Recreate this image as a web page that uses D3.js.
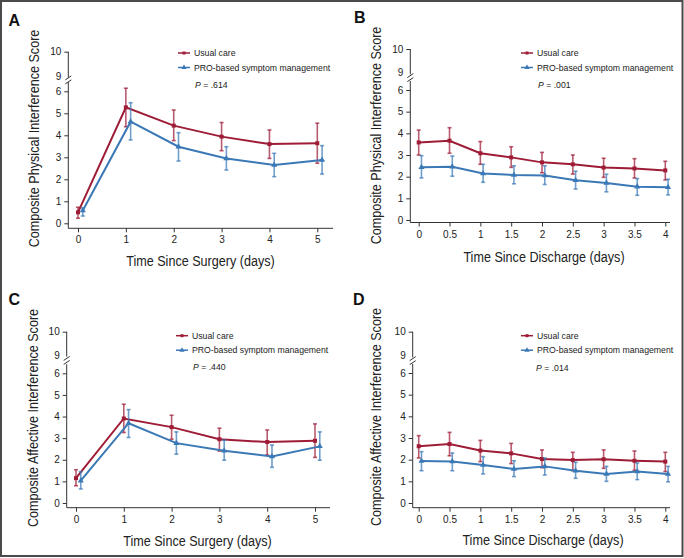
<!DOCTYPE html>
<html>
<head>
<meta charset="utf-8">
<script src="https://cdn.jsdelivr.net/npm/d3@7"></script>
<style>
  html, body { margin: 0; padding: 0; background: #fff; }
  svg { display: block; }
  .tick text { font-family: "Liberation Sans", Arial, sans-serif; font-size: 10px; fill: #222; }
  .tick line { stroke: #333; }
  .axis-title { font-family: "Liberation Sans", Arial, sans-serif; font-size: 15px; fill: #222; }
  .legend text, .pval { font-family: "Liberation Sans", Arial, sans-serif; font-size: 8.7px; fill: #222; }
  .panel-label { font-family: "Liberation Sans", Arial, sans-serif; font-size: 16px; font-weight: bold; fill: #111; }
</style>
</head>
<body>
<svg id="fig" width="684" height="558"></svg>
<script>
// Values: [mean, lower CI, upper CI]
const surgeryDays = [0, 1, 2, 3, 4, 5];
const dischargeDays = [0, 0.5, 1, 1.5, 2, 2.5, 3, 3.5, 4];

const physSurgeryUsual = [[0.5, 0.23, 0.73], [5.27, 4.39, 6.14], [4.44, 3.76, 5.15], [3.94, 3.3, 4.58], [3.6, 2.95, 4.24], [3.64, 2.73, 4.55]];
const physSurgeryPro   = [[0.58, 0.33, 0.7], [4.62, 3.79, 5.48], [3.48, 2.83, 4.12], [2.95, 2.42, 3.48], [2.65, 2.12, 3.18], [2.88, 2.24, 3.53]];

const physDischargeUsual = [[3.58, 3.0, 4.15], [3.66, 3.08, 4.26], [3.08, 2.57, 3.62], [2.89, 2.43, 3.38], [2.66, 2.18, 3.12], [2.57, 2.12, 3.0], [2.42, 1.97, 2.85], [2.38, 1.94, 2.83], [2.29, 1.85, 2.71]];
const physDischargePro   = [[2.43, 1.94, 2.97], [2.46, 2.02, 2.95], [2.15, 1.74, 2.57], [2.08, 1.67, 2.5], [2.05, 1.64, 2.5], [1.83, 1.43, 2.25], [1.71, 1.3, 2.11], [1.54, 1.14, 1.91], [1.51, 1.16, 1.88]];

const affSurgeryUsual = [[1.15, 0.8, 1.54], [3.91, 3.26, 4.57], [3.51, 2.95, 4.06], [2.95, 2.4, 3.46], [2.82, 2.22, 3.38], [2.88, 2.11, 3.66]];
const affSurgeryPro   = [[1.03, 0.65, 1.45], [3.69, 3.03, 4.32], [2.77, 2.26, 3.29], [2.42, 1.98, 2.91], [2.15, 1.65, 2.68], [2.62, 1.98, 3.29]];

const affDischargeUsual = [[2.62, 2.08, 3.11], [2.72, 2.18, 3.26], [2.42, 1.91, 2.89], [2.29, 1.82, 2.75], [2.03, 1.63, 2.45], [1.98, 1.49, 2.34], [2.02, 1.6, 2.45], [1.95, 1.51, 2.4], [1.91, 1.45, 2.34]];
const affDischargePro   = [[1.94, 1.49, 2.37], [1.91, 1.49, 2.31], [1.75, 1.34, 2.14], [1.57, 1.22, 1.95], [1.69, 1.29, 2.08], [1.49, 1.14, 1.88], [1.34, 1.0, 1.69], [1.45, 1.08, 1.85], [1.34, 0.98, 1.69]];

const seriesNames = ["Usual care", "PRO-based symptom management"];
const lowerTicks = [0, 1, 2, 3, 4, 5, 6];
const upperTicks = [9, 10];
const surgeryTicks = [0, 1, 2, 3, 4, 5];
const dischargeTicks = [0, 0.5, 1, 1.5, 2, 2.5, 3, 3.5, 4];

const RED = "#9e1c36", BLUE = "#3a78b6";
const SQUEEZE = 0.84; // the original titles use a condensed face

// per-panel geometry (px, local to the panel's corner)
const panels = [
  { label: "A", ox: 0, oy: 0, days: surgeryDays, ticks: surgeryTicks, xmax: 5, shift: 0.1,
    usual: physSurgeryUsual, pro: physSurgeryPro, p: ".614",
    ytitle: "Composite Physical Interference Score", xtitle: "Time Since Surgery (days)",
    g: { ax: 68.3, x0: 78, x1: 317.3, xr: 333, xy: 228.3, y0: 223.3, y6: 91.3, y9: 76, y10: 51.7,
         lab: [8.5, 25.5], leg: [178, 53], pv: [195, 88], yt: [38.5, 138.5], xt: [200.5, 266] } },
  { label: "B", ox: 342, oy: 0, days: dischargeDays, ticks: dischargeTicks, xmax: 4, shift: 0.045,
    usual: physDischargeUsual, pro: physDischargePro, p: ".001",
    ytitle: "Composite Physical Interference Score", xtitle: "Time Since Discharge (days)",
    g: { ax: 68.3, x0: 76.7, x1: 323.3, xr: 328, xy: 222.5, y0: 220, y6: 90, y9: 72.7, y10: 49,
         lab: [12, 23], leg: [179, 53], pv: [196, 88], yt: [38.5, 135.5], xt: [202, 262] } },
  { label: "C", ox: 0, oy: 279, days: surgeryDays, ticks: surgeryTicks, xmax: 5, shift: 0.1,
    usual: affSurgeryUsual, pro: affSurgeryPro, p: ".440",
    ytitle: "Composite Affective Interference Score", xtitle: "Time Since Surgery (days)",
    g: { ax: 66.7, x0: 76, x1: 315, xr: 330, xy: 228.7, y0: 224, y6: 94.3, y9: 76, y10: 52.7,
         lab: [8.5, 26], leg: [176, 56.7], pv: [193, 91], yt: [37.5, 139], xt: [197.5, 267] } },
  { label: "D", ox: 342, oy: 279, days: dischargeDays, ticks: dischargeTicks, xmax: 4, shift: 0.045,
    usual: affDischargeUsual, pro: affDischargePro, p: ".014",
    ytitle: "Composite Affective Interference Score", xtitle: "Time Since Discharge (days)",
    g: { ax: 70.7, x0: 76.7, x1: 323.3, xr: 328, xy: 228.7, y0: 224, y6: 94, y9: 76.7, y10: 52.7,
         lab: [11, 26], leg: [179, 56.7], pv: [194, 92], yt: [38.5, 138], xt: [201, 266] } }
];

const svg = d3.select("#fig");

svg.append("rect")
  .attr("x", 1).attr("y", 1).attr("width", 681.5).attr("height", 555)
  .attr("fill", "none").attr("stroke", "#4a4a4a").attr("stroke-width", 2);

const triangle = d3.symbol().type(d3.symbolTriangle).size(16);
const fmt = d3.format("");

function drawPanel(p) {
  const g = svg.append("g").attr("transform", `translate(${p.ox},${p.oy})`);
  const G = p.g;

  const x = d3.scaleLinear().domain([0, p.xmax]).range([G.x0, G.x1]);
  const yLow = d3.scaleLinear().domain([0, 6]).range([G.y0, G.y6]);
  const yUp = d3.scaleLinear().domain([9, 10]).range([G.y9, G.y10]);

  // y axes (broken between 6 and 9)
  const yAxisLow = g.append("g").attr("transform", `translate(${G.ax},0)`)
    .call(d3.axisLeft(yLow).tickValues(lowerTicks).tickFormat(fmt).tickSize(4).tickPadding(3).tickSizeOuter(0));
  yAxisLow.select(".domain").remove();
  const yAxisUp = g.append("g").attr("transform", `translate(${G.ax},0)`)
    .call(d3.axisLeft(yUp).tickValues(upperTicks).tickFormat(fmt).tickSize(4).tickPadding(3).tickSizeOuter(0));
  yAxisUp.select(".domain").remove();
  yAxisUp.selectAll(".tick").filter(d => d === 9).select("line").remove();

  g.append("line").attr("x1", G.ax).attr("x2", G.ax)
    .attr("y1", G.xy).attr("y2", yLow(6.42)).attr("stroke", "#333");
  g.append("line").attr("x1", G.ax).attr("x2", G.ax)
    .attr("y1", yUp(10)).attr("y2", yUp(8.93)).attr("stroke", "#333");
  const bm = (yLow(6.42) + yUp(8.93)) / 2;
  [-2, 2].forEach(off => {
    g.append("line")
      .attr("x1", G.ax - 3).attr("x2", G.ax + 3)
      .attr("y1", bm + off + 2).attr("y2", bm + off - 2)
      .attr("stroke", "#333").attr("stroke-width", 1);
  });

  // x axis
  const xAxis = g.append("g").attr("transform", `translate(0,${G.xy})`)
    .call(d3.axisBottom(x).tickValues(p.ticks).tickFormat(fmt).tickSize(4).tickPadding(4));
  xAxis.select(".domain").remove();
  g.append("line").attr("x1", G.ax).attr("x2", G.xr)
    .attr("y1", G.xy).attr("y2", G.xy).attr("stroke", "#333");

  // titles
  g.append("text").attr("class", "axis-title")
    .attr("transform", `translate(${G.yt[0]},${G.yt[1]}) rotate(-90) scale(${SQUEEZE},1)`)
    .attr("text-anchor", "middle").text(p.ytitle);
  g.append("text").attr("class", "axis-title")
    .attr("transform", `translate(${G.xt[0]},${G.xt[1]}) scale(${SQUEEZE},1)`)
    .attr("text-anchor", "middle").text(p.xtitle);
  g.append("text").attr("class", "panel-label")
    .attr("x", G.lab[0]).attr("y", G.lab[1]).text(p.label);

  // series
  const series = [
    { data: p.usual, color: RED, shift: 0, marker: "square" },
    { data: p.pro, color: BLUE, shift: p.shift, marker: "triangle" }
  ];
  const line = d3.line();
  series.forEach(s => {
    const pts = s.data.map((d, i) => ({ x: x(p.days[i] + s.shift), m: yLow(d[0]), lo: yLow(d[1]), hi: yLow(d[2]) }));
    const eb = g.append("g").attr("stroke", s.color).attr("stroke-opacity", 0.72).attr("stroke-width", 1.6);
    pts.forEach(q => {
      eb.append("line").attr("x1", q.x).attr("x2", q.x).attr("y1", q.lo).attr("y2", q.hi);
      eb.append("line").attr("x1", q.x - 2).attr("x2", q.x + 2).attr("y1", q.lo).attr("y2", q.lo);
      eb.append("line").attr("x1", q.x - 2).attr("x2", q.x + 2).attr("y1", q.hi).attr("y2", q.hi);
    });
    g.append("path").attr("d", line(pts.map(q => [q.x, q.m])))
      .attr("fill", "none").attr("stroke", s.color).attr("stroke-width", 2);
    pts.forEach(q => {
      if (s.marker === "square") {
        g.append("rect").attr("x", q.x - 2).attr("y", q.m - 2).attr("width", 4).attr("height", 4).attr("fill", s.color);
      } else {
        g.append("path").attr("d", triangle).attr("transform", `translate(${q.x},${q.m})`).attr("fill", s.color);
      }
    });
  });

  // legend
  const leg = g.append("g").attr("class", "legend");
  series.forEach((s, i) => {
    const ly = G.leg[1] + i * 14.5;
    leg.append("line").attr("x1", G.leg[0]).attr("x2", G.leg[0] + 12)
      .attr("y1", ly).attr("y2", ly).attr("stroke", s.color).attr("stroke-width", 1.5);
    if (s.marker === "square") {
      leg.append("rect").attr("x", G.leg[0] + 4.5).attr("y", ly - 1.5).attr("width", 3).attr("height", 3).attr("fill", s.color);
    } else {
      leg.append("path").attr("d", d3.symbol().type(d3.symbolTriangle).size(12))
        .attr("transform", `translate(${G.leg[0] + 6},${ly})`).attr("fill", s.color);
    }
    leg.append("text").attr("x", G.leg[0] + 16).attr("y", ly + 3).text(seriesNames[i]);
  });
  const pt = g.append("text").attr("class", "pval").attr("x", G.pv[0]).attr("y", G.pv[1]);
  pt.append("tspan").attr("font-style", "italic").text("P");
  pt.append("tspan").text(" = " + p.p);
}

panels.forEach(drawPanel);
</script>
</body>
</html>
